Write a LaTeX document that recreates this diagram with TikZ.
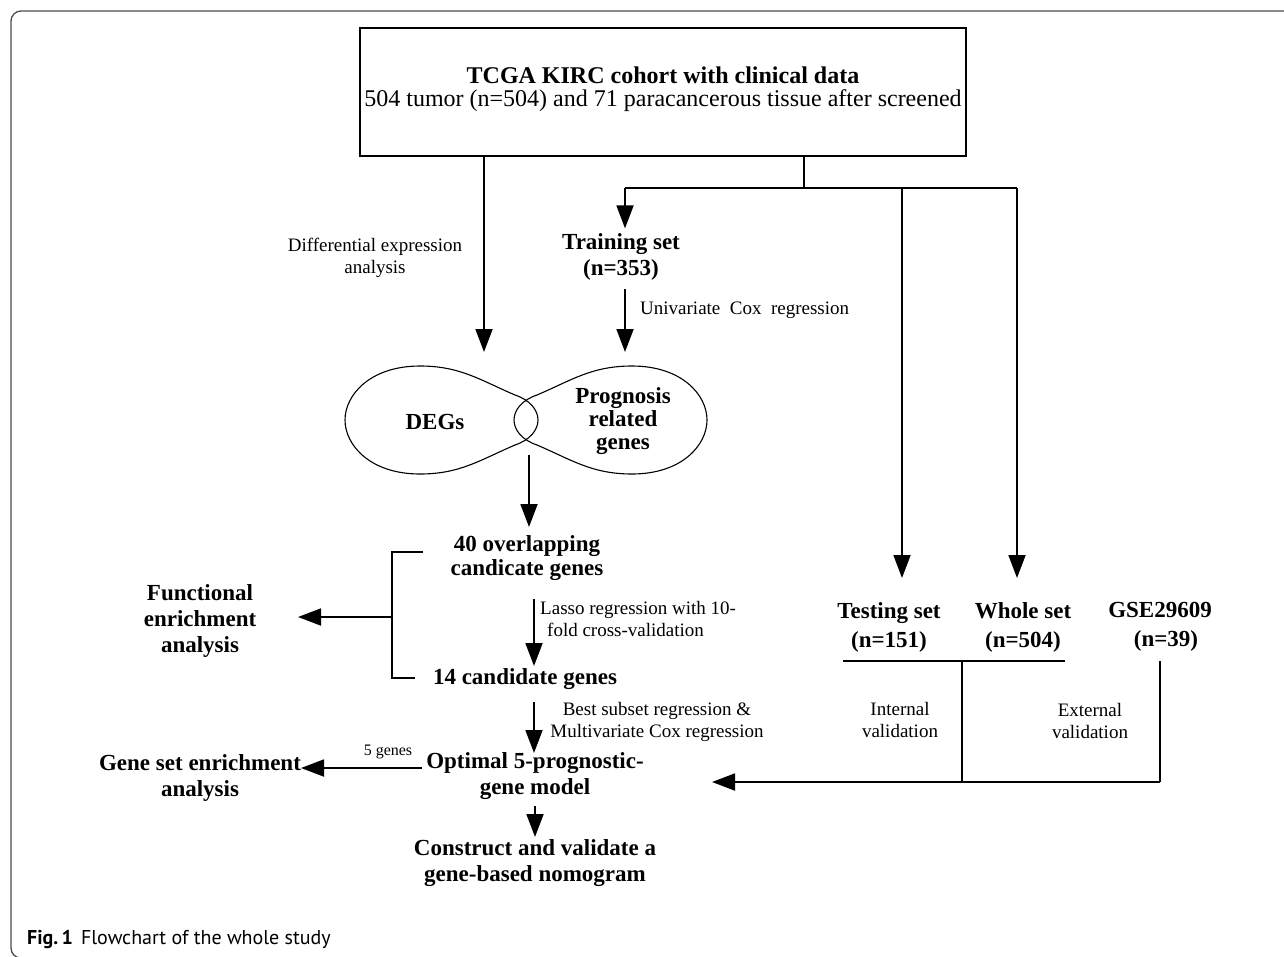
\documentclass[tikz,border=0pt]{standalone}
\usepackage{fontspec}
\setmainfont{Liberation Serif}
\newfontfamily\capfont{PT Sans}
\usetikzlibrary{arrows.meta,calc}
\begin{document}
\begin{tikzpicture}[x=1pt,y=-1pt,
  bl/.style={font=\fontsize{23}{26}\selectfont\bfseries, align=center, inner sep=0pt},
  sm/.style={font=\fontsize{19}{22}\selectfont, align=center, inner sep=0pt},
  ln/.style={line width=1.8pt},
  arr/.style={line width=1.8pt, -{Triangle[length=23pt,width=17pt]}},
  frame/.style={draw=black!70, line width=1.3pt, rounded corners=10pt}]
\useasboundingbox (0,0) rectangle (1284,956);
\fill[white] (0,0) rectangle (1284,956);
% outer frame
\draw[frame] (1300,11) -- (11,11) -- (11,958) -- (1300,958);
% top box
\node[draw, line width=1.3pt, minimum width=606pt, minimum height=128pt, inner sep=0pt] (top) at (663,92) {};
\node[font=\fontsize{24}{23}\selectfont, align=center, inner sep=0pt] (toptxt) at (663,89)
  {\textbf{TCGA KIRC cohort with clinical data}\\504 tumor (n=504) and 71 paracancerous tissue after screened};
% labels
\node[sm] (diff) at (375,258) {Differential expression\\analysis};
\node[bl] (train) at (621,257) {Training set\\(n=353)};
\node[sm, anchor=west] (univ) at (640,310) {Univariate\ \ Cox\ \ regression};
% lobes
\draw[line width=1.1pt] (538,420) .. controls (538,410) and (530,400) .. (515,395)
  .. controls (480,380) and (460,366) .. (420,366)
  .. controls (370,366) and (345,395) .. (345,420)
  .. controls (345,445) and (370,474) .. (420,474)
  .. controls (460,474) and (480,460) .. (515,445)
  .. controls (530,440) and (538,430) .. cycle;
\draw[line width=1.1pt] (514,420) .. controls (514,410) and (522,400) .. (537,395)
  .. controls (572,380) and (592,366) .. (632,366)
  .. controls (682,366) and (707,395) .. (707,420)
  .. controls (707,445) and (682,474) .. (632,474)
  .. controls (592,474) and (572,460) .. (537,445)
  .. controls (522,440) and (514,430) .. cycle;
\node[bl] (deg) at (435,422) {DEGs};
\node[bl, font=\fontsize{23}{23}\selectfont\bfseries] (prog) at (623,421) {Prognosis\\related\\genes};
% middle column
\node[bl, font=\fontsize{23}{24}\selectfont\bfseries] (ovl) at (527,558) {40 overlapping\\candicate genes};
\node[bl] (c14) at (525,679) {14 candidate genes};
\node[bl] (func) at (200,621) {Functional\\enrichment\\analysis};
\node[sm, align=left, anchor=west] (lasso) at (540,619) {Lasso regression with 10-\\\hspace*{7pt}fold cross-validation};
\node[sm] (best) at (657,722) {Best subset regression \&\\Multivariate Cox regression};
\node[bl] (opt) at (535,776) {Optimal 5-prognostic-\\gene model};
\node[bl] (gsea) at (200,778) {Gene set enrichment\\analysis};
\node[font=\fontsize{16}{18}\selectfont, inner sep=0pt] (five) at (388,752) {5 genes};
\node[bl] (cons) at (535,863) {Construct and validate a\\gene-based nomogram};
% right column
\node[bl, font=\fontsize{23}{29}\selectfont\bfseries] (test) at (889,627) {Testing set\\(n=151)};
\node[bl, font=\fontsize{23}{29}\selectfont\bfseries] (whole) at (1023,627) {Whole set\\(n=504)};
\node[bl, font=\fontsize{23}{29}\selectfont\bfseries] (gse) at (1160,627) {GSE29609\\\hspace*{12pt}(n=39)};
\node[sm] (intv) at (900,720) {Internal\\validation};
\node[sm] (extv) at (1090,721) {External\\validation};
% junction coordinates
\coordinate (j1) at (804,188);
\coordinate (jL) at (625,188);
\coordinate (jR) at (1017,188);
\coordinate (degIn) at (484,352);
\coordinate (prgIn) at (625,352);
\coordinate (lobOut) at (529,455);
\coordinate (ovlIn) at (529,527);
\coordinate (bt) at (423,552);
\coordinate (bb) at (415,678);
\coordinate (bm) at (392,617);
\coordinate (funcIn) at (298,617);
\coordinate (gseaIn) at (301,768);
\coordinate (ul) at (843,661);
\coordinate (ur) at (1065,661);
\coordinate (um) at (962,661);
\coordinate (vb) at (962,782);
\coordinate (gb) at (1160,782);
\coordinate (optIn) at (712,782);
% connectors
\draw[ln] (top.south -| j1) -- (j1);
\draw[ln] (jL) -- (jR);
\draw[arr] (jL) -- ($(train.north)+(4,-5)$);
\draw[arr] (top.south -| degIn) -- (degIn);
\draw[arr] ($(train.south)+(4,8)$) -- (prgIn);
\draw[arr] (lobOut) -- (ovlIn);
\draw[ln] (bt) -| (bm) |- (bb);
\draw[arr] (bm) -- (funcIn);
\draw[arr] (534,599) -- (534,666);
\draw[arr] (534,702) -- (534,753);
\draw[arr] (opt.west |- gseaIn) ++(-4,0) -- (gseaIn);
\draw[arr] (535,806) -- (535,837);
\draw[arr] (902,188) -- (902,578);
\draw[arr] (jR) -- (1017,578);
\draw[ln] (ul) -- (ur);
\draw[ln] (um) -- (vb);
\draw[ln] (1160,661) -- (gb);
\draw[arr] (gb) -- (optIn);
% caption
\node[anchor=west, inner sep=0pt, font=\capfont\fontsize{20}{21}\selectfont] (cap) at (27,939)
  {\textbf{Fig.\,1}\hspace{8pt}Flowchart of the whole study};
\end{tikzpicture}
\end{document}
